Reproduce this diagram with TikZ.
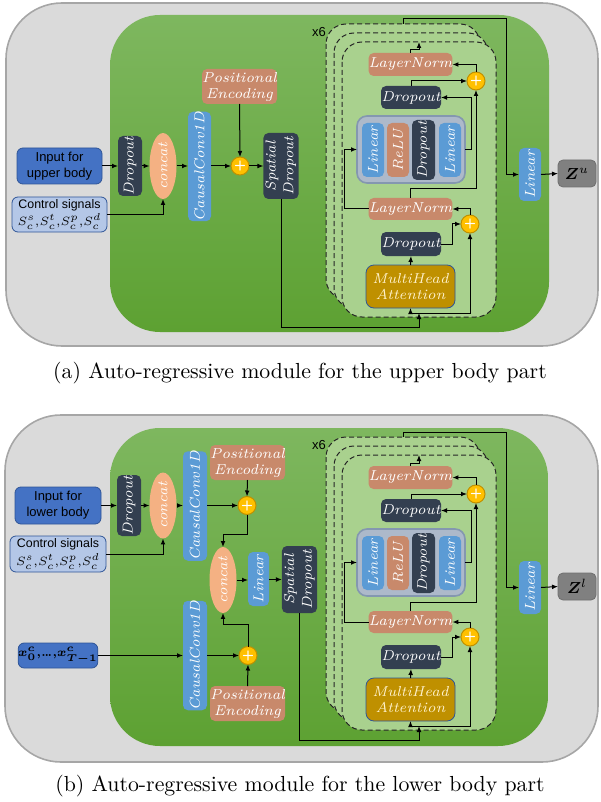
\documentclass[tikz,border=0pt]{standalone}
\usepackage{fontspec}
\usepackage{amsmath}
\usetikzlibrary{arrows.meta,shapes.geometric}
\newfontfamily\arialf{Liberation Sans}
\definecolor{cGray}{HTML}{DADADA}
\definecolor{cGrayB}{HTML}{A6A6A6}
\definecolor{cGa}{HTML}{7EB75F}
\definecolor{cGb}{HTML}{5DA132}
\definecolor{cCard}{HTML}{A9D18E}
\definecolor{cNavy}{HTML}{333F50}
\definecolor{cLin}{HTML}{5B9BD5}
\definecolor{cSalm}{HTML}{C8896B}
\definecolor{cCat}{HTML}{F4B183}
\definecolor{cPlus}{HTML}{FFC000}
\definecolor{cPlusB}{HTML}{C09000}
\definecolor{cFfn}{HTML}{ADB9CA}
\definecolor{cFfnB}{HTML}{8497B0}
\definecolor{cMha}{HTML}{BF9000}
\definecolor{cMhaB}{HTML}{2F5597}
\definecolor{cMhaT}{HTML}{FFF2CC}
\definecolor{cIn}{HTML}{4472C4}
\definecolor{cInB}{HTML}{2F5597}
\definecolor{cCtl}{HTML}{B4C7E7}
\definecolor{cZ}{HTML}{808080}
\definecolor{cZB}{HTML}{6F6F6F}
\newcommand\lblfont{\fontsize{7.2}{8}\selectfont\itshape\addfontfeature{LetterSpace=4}}
\tikzset{
 base/.style={rectangle,rounded corners=2.5pt,inner sep=0pt,outer sep=0pt,align=center,font=\lblfont},
 navy/.style={base,fill=cNavy,text=white},
 lin/.style={base,fill=cLin,text=white},
 salm/.style={base,fill=cSalm,text=white},
 ffn/.style={base,fill=cFfn,draw=cFfnB,line width=0.8pt,rounded corners=5pt},
 mha/.style={base,fill=cMha,draw=cMhaB,line width=0.4pt,rounded corners=4pt,text=cMhaT},
 inbox/.style={base,fill=cIn,draw=cInB,line width=0.4pt,rounded corners=3pt,font=\fontsize{6.5}{8}\selectfont\arialf},
 ctlbox/.style={base,fill=cCtl,draw=cInB,line width=0.4pt,rounded corners=3pt,font=\fontsize{6.2}{7.5}\selectfont\arialf},
 zbox/.style={base,fill=cZ,draw=cZB,line width=0.4pt,text=black,font=\fontsize{8}{9}\selectfont},
 xbox/.style={base,fill=cIn,draw=cInB,line width=0.4pt,rounded corners=3pt,text=black,font=\fontsize{6}{7}\selectfont\boldmath},
 concat/.style={ellipse,fill=cCat,minimum width=13.5pt,minimum height=23.5pt,inner sep=0pt,outer sep=0pt,text=white,font=\lblfont},
 plus/.style={circle,fill=cPlus,draw=cPlusB,line width=0.5pt,minimum size=9pt,inner sep=0pt,outer sep=0pt,text=white,font=\fontsize{7}{7}\selectfont\sffamily\bfseries},
 arr/.style={-{Latex[length=3pt,width=2.4pt]},line width=0.5pt},
 card/.style={fill=cCard,draw=black!85,dash pattern=on 2.5pt off 1.5pt,line width=0.5pt,rounded corners=10pt},
 lbl/.style={font=\fontsize{6.5}{7}\selectfont\arialf,inner sep=0pt},
 capt/.style={font=\fontsize{10.9}{12}\selectfont,inner sep=0pt}
}
\newcommand\mybox[7]{%
  \pgfmathsetmacro\myw{abs(#4-#2)*0.5}%
  \pgfmathsetmacro\myh{abs(#5-#3)*0.5}%
  \node[#6,minimum width=\myw pt,minimum height=\myh pt] (#1) at ({(#2+#4)/2},{(#3+#5)/2}) {#7};}
\newcommand\rtwo[2]{\rotatebox{90}{\renewcommand\arraystretch{1.1}\begin{tabular}{@{}c@{}}#1\\#2\end{tabular}}}
\newcommand\ctltext{Control signals\\[1.2pt]{\fontsize{6.5}{8}\selectfont$S_c^s{,}S_c^t{,}S_c^p{,}S_c^d$}}
\newcommand\tightdots{{.}\mkern-2mu{.}\mkern-2mu{.}}
\newcommand\tblock[3]{%
\begin{scope}[shift={(0,#2)}]
\draw[card] (326,24) rectangle (480,299);
\draw[card] (334,33) rectangle (488,308);
\draw[card] (342,42) rectangle (496,317);
\node[lbl] (#1x6) at (319,32) {x6};
\coordinate (#1bt) at (403,24);
\coordinate (#1ct) at (419,42);
\coordinate (#1k) at (506,174.5);
\coordinate (#1j) at (419,313);
\coordinate (#1q) at (419,327);
\mybox{#1ln2}{372}{53}{449}{76}{salm}{LayerNorm}
\node[plus] (#1p2) at (476,81) {+};
\mybox{#1do2}{381}{86}{441}{109}{navy}{Dropout}
\mybox{#1ffn}{357}{116}{465}{183}{ffn}{}
\mybox{#1la}{362}{123}{384}{177}{lin}{\rotatebox{90}{Linear}}
\mybox{#1relu}{387}{123}{409}{177}{salm}{\rotatebox{90}{ReLU}}
\mybox{#1do3}{412}{120}{435}{180}{navy}{\rotatebox{90}{\fontsize{7}{8}\selectfont Dropout}}
\mybox{#1lb}{439}{123}{461}{177}{lin}{\rotatebox{90}{Linear}}
\mybox{#1ln1}{372}{198}{449}{220}{salm}{LayerNorm}
\node[plus] (#1p1) at (470,224) {+};
\mybox{#1do1}{381}{232}{441}{256}{navy}{Dropout}
\mybox{#1mha}{366}{265}{455}{308}{mha}{MultiHead\\Attention}
\mybox{#1lin}{519}{148}{541}{201}{lin}{\rotatebox{90}{Linear}}
\mybox{#1z}{558}{160}{596}{187}{zbox}{#3}
\draw[arr] (#1mha.north) -- (#1do1.south);
\draw[arr] (#1do1.east) -- ++(11,0) |- (#1p1.west);
\draw[arr] (#1p1.north) |- (#1ln1.east);
\draw[arr] (#1j) -| (#1mha.south);
\draw[arr] (#1j) -| (#1p1.south);
\draw[arr] (#1ln1.west) -- ++(-24,0) |- (#1ffn.west);
\draw[arr] (#1ln1.north) -- ++(0,-9) -| (#1p2.south);
\draw[arr] (#1ffn.east) -- ++(6,0) |- (#1do2.east);
\draw[arr] (#1do2.north) |- (#1p2.west);
\draw[arr] (#1p2.north) |- (#1ln2.east);
\draw[arr] (#1ln2.north) -- ++(0,-3) -| (#1ct);
\draw[arr] (#1bt) -- ++(0,-5) -| (#1k) -- (#1lin.west);
\draw[arr] (#1lin.east) -- (#1z.west);
\end{scope}}
\begin{document}
\begin{tikzpicture}[x=0.5pt,y=-0.5pt]
\useasboundingbox (0,0) rectangle (600,802);
% ---------- panel (a)
\draw[fill=cGray,draw=cGrayB,line width=0.8pt,rounded corners=28pt] (6,3) rectangle (598,346);
\shade[top color=cGa,bottom color=cGb,rounded corners=25pt] (110,15) rectangle (549,332);
\tblock{a}{0}{$\boldsymbol{Z}^{u}$}
\mybox{ain}{17}{148}{102}{184}{inbox}{Input for\\upper body}
\mybox{actl}{12}{197}{107}{232}{ctlbox}{\ctltext}
\mybox{ado}{118}{136}{142}{196}{navy}{\rotatebox{90}{Dropout}}
\node[concat] (acat) at (163,166) {\rotatebox{90}{concat}};
\mybox{acc}{188}{120}{211}{213}{lin}{\rotatebox{90}{CausalConv1D}}
\node[plus] (ap) at (240,166) {+};
\mybox{ape}{202}{69}{277}{104}{salm}{Positional\\Encoding}
\mybox{asd}{264}{133}{298}{199}{navy}{\rtwo{Spatial}{Dropout}}
\draw[arr] (ain.east) -- (ado.west);
\draw[arr] (ado.east) -- (acat.west);
\draw[arr] (acat.east) -- (acc.west |- acat.east);
\draw[arr] (acc.east |- ap.west) -- (ap.west);
\draw[arr] (ape.south) -- (ap.north);
\draw[arr] (ap.east) -- (asd.west |- ap.east);
\draw[arr] (actl.east) -| (acat.south);
\draw[arr] (asd.south) |- (aq) -- (aj);
\node[capt] (acap) at (300,373) {(a) Auto-regressive module for the upper body part};
% ---------- panel (b)
\draw[fill=cGray,draw=cGrayB,line width=0.8pt,rounded corners=28pt] (5,415) rectangle (598,762);
\shade[top color=cGa,bottom color=cGb,rounded corners=25pt] (110,428) rectangle (548,746);
\tblock{b}{413}{$\boldsymbol{Z}^{l}$}
\mybox{bin}{15}{487}{101}{524}{inbox}{Input for\\lower body}
\mybox{bctl}{10}{536}{106}{572}{ctlbox}{\ctltext}
\mybox{bdo}{117}{475}{141}{536}{navy}{\rotatebox{90}{Dropout}}
\node[concat] (bcat) at (163,505.5) {\rotatebox{90}{concat}};
\mybox{bcc}{183}{459}{207}{553}{lin}{\rotatebox{90}{CausalConv1D}}
\node[plus] (bp) at (247,505.5) {+};
\mybox{bpe}{210}{445}{285}{480}{salm}{Positional\\Encoding}
\node[concat] (bcat2) at (223,580) {\rotatebox{90}{concat}};
\mybox{blin}{248}{552}{269}{606}{lin}{\rotatebox{90}{Linear}}
\mybox{bsd}{282}{546}{317}{613}{navy}{\rtwo{Spatial}{Dropout}}
\mybox{bcc2}{183}{608}{207}{703}{lin}{\rotatebox{90}{CausalConv1D}}
\node[plus] (bp2) at (248,655.5) {+};
\mybox{bpe2}{210}{686}{285}{721}{salm}{Positional\\Encoding}
\mybox{bx}{22}{643}{94}{668}{xbox}{$x_0^c{,}\tightdots{,}x_{T-1}^c$}
\draw[arr] (bin.east) -- (bdo.west);
\draw[arr] (bdo.east) -- (bcat.west);
\draw[arr] (bcat.east) -- (bcc.west |- bcat.east);
\draw[arr] (bcc.east |- bp.west) -- (bp.west);
\draw[arr] (bpe.south) -- (bp.north);
\draw[arr] (bctl.east) -| (bcat.south);
\draw[arr] (bp.south) -- ++(0,20) -| (bcat2.north);
\draw[arr] (bx.east) -- (bcc2.west |- bx.east);
\draw[arr] (bcc2.east |- bp2.west) -- (bp2.west);
\draw[arr] (bpe2.north) -- (bp2.south);
\draw[arr] (bp2.north) -- ++(0,-22) -| (bcat2.south);
\draw[arr] (bcat2.east) -- (blin.west |- bcat2.east);
\draw[arr] (blin.east |- bsd.west) -- (bsd.west);
\draw[arr] (bsd.south) |- (bq) -- (bj);
\node[capt] (bcap) at (300,786) {(b) Auto-regressive module for the lower body part};
\end{tikzpicture}
\end{document}
